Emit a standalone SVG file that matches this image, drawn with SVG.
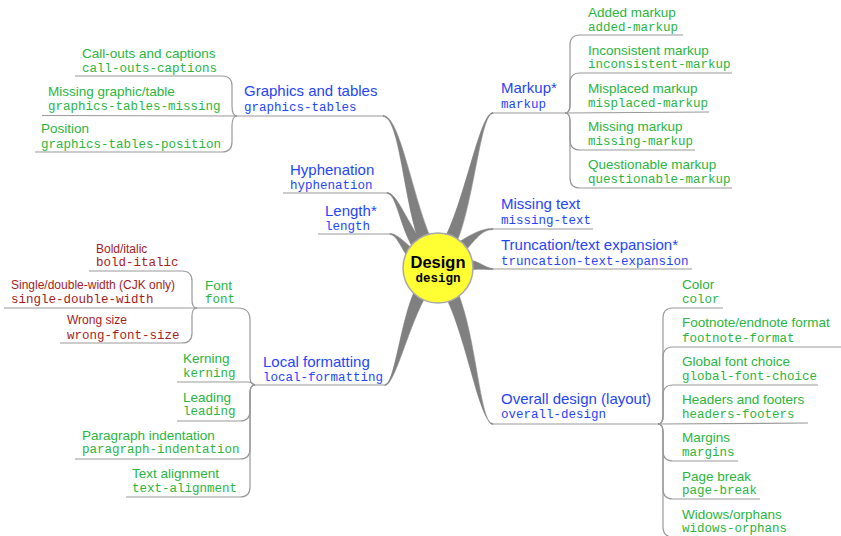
<svg xmlns="http://www.w3.org/2000/svg" width="841" height="536" viewBox="0 0 841 536">
<style>
.t{font-family:"Liberation Sans",Arial,sans-serif;font-size:15px;fill:#1f45fa}
.tc{font-family:"Liberation Mono","Courier New",monospace;font-size:12.5px;fill:#1f45fa}
.g{font-family:"Liberation Sans",Arial,sans-serif;font-size:13.5px;fill:#2ab540}
.gc{font-family:"Liberation Mono","Courier New",monospace;font-size:12.5px;fill:#2ab540}
.r{font-family:"Liberation Sans",Arial,sans-serif;font-size:12px;fill:#a51c1c}
.rc{font-family:"Liberation Mono","Courier New",monospace;font-size:12.5px;fill:#a51c1c}
.ln{fill:none;stroke:#999999;stroke-width:1.2}
.br{fill:#808080;stroke:#808080;stroke-width:0.6}
</style>
<rect width="841" height="536" fill="#ffffff"/>
<g id="connectors">
<path class="br" d="M383,115.5 C400,115.5 412.6,198 431.6,240 L420.4,245 C403.4,202 400,116.5 383,116.5Z"/>
<path class="br" d="M387,192.5 C397,192.5 406.6,222.3 424.6,245.3 L415.4,251.7 C399.4,227.7 397,193.5 387,193.5Z"/>
<path class="br" d="M390,233.5 C398,233.5 407.7,246.4 421.7,255.4 L414.3,264.6 C402.3,253.6 398,234.5 390,234.5Z"/>
<path class="br" d="M385,385.5 C395,385.5 409.4,322.5 427.4,293.5 L416.6,286.5 C400.6,317.5 395,384.5 385,384.5Z"/>
<path class="br" d="M493,112.5 C480,112.5 465.5,197.8 444.5,238.8 L455.5,245.2 C474.5,202.2 480,113.5 493,113.5Z"/>
<path class="br" d="M493,228.5 C480,228.5 467.1,236.5 454.1,245.5 L461.9,254.5 C472.9,243.5 480,229.5 493,229.5Z"/>
<path class="br" d="M493,268.5 C485,268.5 478,259.5 465,259.5 L465,270.5 C478,268.5 485,269.5 493,269.5Z"/>
<path class="br" d="M493,424.5 C480,424.5 476.6,338 457.6,292 L446.4,298 C467.4,342 480,423.5 493,423.5Z"/>
<path class="ln" d="M237,116 H384"/>
<path class="ln" d="M75,76 H222 Q232,76 232,86 V106 Q232,116 237,116"/>
<path class="ln" d="M42,115.5 L237,116"/>
<path class="ln" d="M35,152 H222 Q232,152 232,142 V126 Q232,116 237,116"/>
<path class="ln" d="M283,193 H388"/>
<path class="ln" d="M318,234 H391"/>
<path class="ln" d="M255,385 H386"/>
<path class="ln" d="M89,271 H182 Q192,271 192,281 V300 Q192,308 197,308"/>
<path class="ln" d="M4,308 H197"/>
<path class="ln" d="M60,343 H182 Q192,343 192,333 V316 Q192,308 197,308"/>
<path class="ln" d="M197,308 H238 Q250,308 250,320 V377 Q250,385 255,385"/>
<path class="ln" d="M177,382 H248 Q252,382 255,385"/>
<path class="ln" d="M177,421 H240 Q250,421 250,411 V393 Q250,385 255,385"/>
<path class="ln" d="M75,459 H240 Q250,459 250,449 V393 Q250,385 255,385"/>
<path class="ln" d="M126,497 H240 Q250,497 250,487 V393 Q250,385 255,385"/>
<path class="ln" d="M493,113 H565"/>
<path class="ln" d="M683,35 H580 Q570,35 570,45 V105 Q570,113 565,113"/>
<path class="ln" d="M732,73 H580 Q570,73 570,83 V105 Q570,113 565,113"/>
<path class="ln" d="M709,112 L565,113"/>
<path class="ln" d="M695,150 H580 Q570,150 570,140 V121 Q570,113 565,113"/>
<path class="ln" d="M732,188 H580 Q570,188 570,178 V121 Q570,113 565,113"/>
<path class="ln" d="M493,229 H593"/>
<path class="ln" d="M493,269 H692"/>
<path class="ln" d="M493,424 H658"/>
<path class="ln" d="M723,308 H673 Q663,308 663,318 V416 Q663,424 658,424"/>
<path class="ln" d="M841,347 H673 Q663,347 663,357 V416 Q663,424 658,424"/>
<path class="ln" d="M818,385 H673 Q663,385 663,395 V416 Q663,424 658,424"/>
<path class="ln" d="M808,423 L658,424"/>
<path class="ln" d="M738,461 H673 Q663,461 663,451 V432 Q663,424 658,424"/>
<path class="ln" d="M760,499 H673 Q663,499 663,489 V432 Q663,424 658,424"/>
<path class="ln" d="M790,537 H673 Q663,537 663,527 V432 Q663,424 658,424"/>
</g>
<g id="design">
<circle cx="438" cy="268" r="35" fill="#ffff33" stroke="#a8a8a8" stroke-width="1.5"/>
<text x="438" y="268" text-anchor="middle" style="font-family:'Liberation Sans',Arial,sans-serif;font-size:16.5px;font-weight:bold;fill:#000">Design</text>
<text x="438" y="282" text-anchor="middle" style="font-family:'Liberation Mono','Courier New',monospace;font-size:12.5px;font-weight:bold;fill:#000">design</text>
</g>
<g id="graphics-tables"><text class="t" x="244" y="96">Graphics and tables</text><text class="tc" x="244" y="111">graphics-tables</text></g>
<g id="call-outs-captions"><text class="g" x="82" y="58">Call-outs and captions</text><text class="gc" x="82" y="72">call-outs-captions</text></g>
<g id="graphics-tables-missing"><text class="g" x="48" y="96">Missing graphic/table</text><text class="gc" x="48" y="110">graphics-tables-missing</text></g>
<g id="graphics-tables-position"><text class="g" x="41" y="133">Position</text><text class="gc" x="41" y="148">graphics-tables-position</text></g>
<g id="hyphenation"><text class="t" x="290" y="175">Hyphenation</text><text class="tc" x="290" y="189">hyphenation</text></g>
<g id="length"><text class="t" x="325" y="216">Length*</text><text class="tc" x="325" y="230">length</text></g>
<g id="local-formatting"><text class="t" x="263" y="367">Local formatting</text><text class="tc" x="263" y="381">local-formatting</text></g>
<g id="font"><text class="g" x="205" y="290">Font</text><text class="gc" x="205" y="303">font</text></g>
<g id="bold-italic"><text class="r" x="96" y="253">Bold/italic</text><text class="rc" x="96" y="266">bold-italic</text></g>
<g id="single-double-width"><text class="r" x="11" y="289">Single/double-width (CJK only)</text><text class="rc" x="11" y="303">single-double-width</text></g>
<g id="wrong-font-size"><text class="r" x="67" y="324">Wrong size</text><text class="rc" x="67" y="339">wrong-font-size</text></g>
<g id="kerning"><text class="g" x="183" y="363">Kerning</text><text class="gc" x="183" y="377">kerning</text></g>
<g id="leading"><text class="g" x="183" y="402">Leading</text><text class="gc" x="183" y="415">leading</text></g>
<g id="paragraph-indentation"><text class="g" x="82" y="440">Paragraph indentation</text><text class="gc" x="82" y="453">paragraph-indentation</text></g>
<g id="text-alignment"><text class="g" x="132" y="478">Text alignment</text><text class="gc" x="132" y="492">text-alignment</text></g>
<g id="markup"><text class="t" x="501" y="93">Markup*</text><text class="tc" x="501" y="108">markup</text></g>
<g id="added-markup"><text class="g" x="588" y="17">Added markup</text><text class="gc" x="588" y="31">added-markup</text></g>
<g id="inconsistent-markup"><text class="g" x="588" y="55">Inconsistent markup</text><text class="gc" x="588" y="68">inconsistent-markup</text></g>
<g id="misplaced-markup"><text class="g" x="588" y="93">Misplaced markup</text><text class="gc" x="588" y="107">misplaced-markup</text></g>
<g id="missing-markup"><text class="g" x="588" y="131">Missing markup</text><text class="gc" x="588" y="145">missing-markup</text></g>
<g id="questionable-markup"><text class="g" x="588" y="169">Questionable markup</text><text class="gc" x="588" y="183">questionable-markup</text></g>
<g id="missing-text"><text class="t" x="501" y="209">Missing text</text><text class="tc" x="501" y="224">missing-text</text></g>
<g id="truncation-text-expansion"><text class="t" x="501" y="250">Truncation/text expansion*</text><text class="tc" x="501" y="265">truncation-text-expansion</text></g>
<g id="overall-design"><text class="t" x="501" y="404">Overall design (layout)</text><text class="tc" x="501" y="418">overall-design</text></g>
<g id="color"><text class="g" x="682" y="289">Color</text><text class="gc" x="682" y="303">color</text></g>
<g id="footnote-format"><text class="g" x="682" y="327">Footnote/endnote format</text><text class="gc" x="682" y="342">footnote-format</text></g>
<g id="global-font-choice"><text class="g" x="682" y="366">Global font choice</text><text class="gc" x="682" y="380">global-font-choice</text></g>
<g id="headers-footers"><text class="g" x="682" y="404">Headers and footers</text><text class="gc" x="682" y="418">headers-footers</text></g>
<g id="margins"><text class="g" x="682" y="442">Margins</text><text class="gc" x="682" y="456">margins</text></g>
<g id="page-break"><text class="g" x="682" y="481">Page break</text><text class="gc" x="682" y="494">page-break</text></g>
<g id="widows-orphans"><text class="g" x="682" y="519">Widows/orphans</text><text class="gc" x="682" y="532">widows-orphans</text></g>
</svg>
